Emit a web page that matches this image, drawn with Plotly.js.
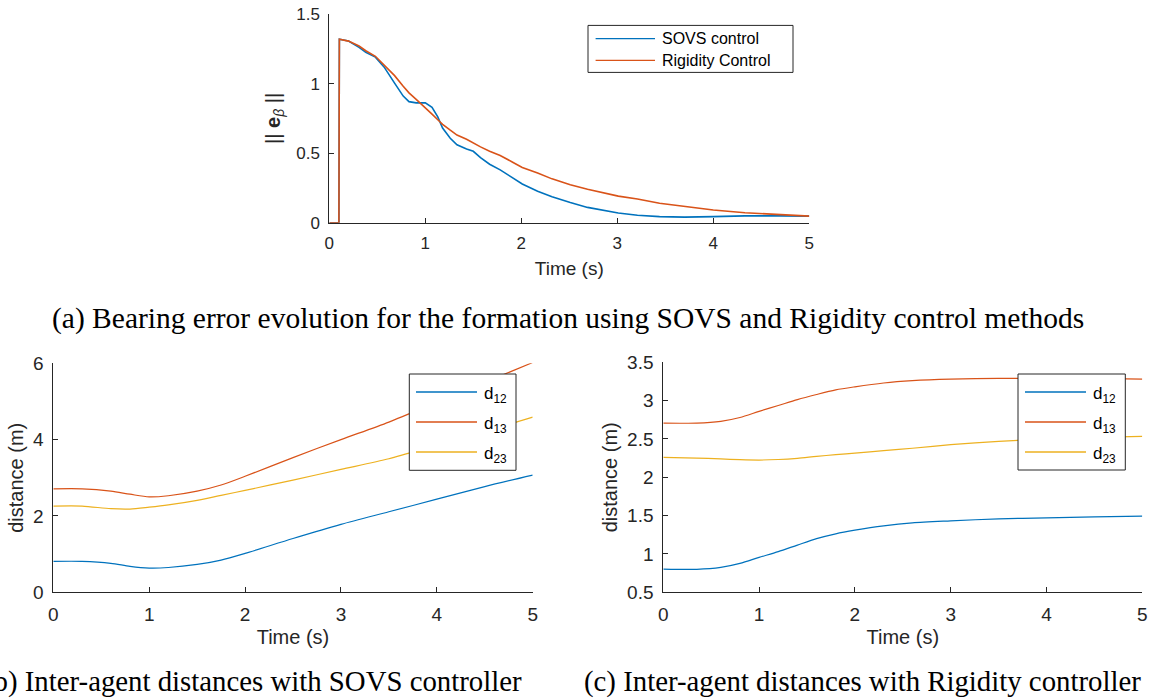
<!DOCTYPE html>
<html>
<head>
<meta charset="utf-8">
<script src="https://cdn.plot.ly/plotly-3.0.1.min.js"></script>
<style>html,body{margin:0;padding:0;background:#fff;}#chart{width:1153px;height:699px;}</style>
</head>
<body>
<div id="chart"></div>
<script>
// ---------- data: (a) bearing error ----------
const timeA = [0, 0.10, 0.105, 0.2, 0.31, 0.38, 0.48, 0.57, 0.68, 0.77, 0.83, 0.905, 1.0, 1.07, 1.13, 1.18, 1.26, 1.33, 1.43, 1.50, 1.575, 1.67, 1.78, 1.91, 2.01, 2.17, 2.32, 2.51, 2.69, 3.01, 3.21, 3.44, 3.70, 4.0, 4.33, 4.70, 5.0];
const sovsError = [0, 0, 1.318, 1.306, 1.26, 1.225, 1.19, 1.12, 1.003, 0.91, 0.87, 0.861, 0.861, 0.83, 0.76, 0.68, 0.607, 0.56, 0.53, 0.513, 0.467, 0.42, 0.38, 0.32, 0.278, 0.226, 0.187, 0.145, 0.11, 0.07, 0.054, 0.044, 0.04, 0.044, 0.049, 0.049, 0.047];
const rigidityError = [0, 0, 1.318, 1.305, 1.27, 1.236, 1.196, 1.13, 1.057, 0.98, 0.933, 0.886, 0.828, 0.78, 0.74, 0.707, 0.665, 0.63, 0.60, 0.572, 0.545, 0.513, 0.483, 0.435, 0.397, 0.357, 0.315, 0.273, 0.24, 0.191, 0.17, 0.14, 0.117, 0.091, 0.072, 0.058, 0.047];
const legendA = ["SOVS control", "Rigidity Control"];

// ---------- data: (b) SOVS distances ----------
const timeB = [0, 0.3, 0.6, 0.8, 1.0, 1.2, 1.5, 1.75, 2.0, 2.5, 3.0, 3.5, 4.0, 4.5, 5.0];
const d12SOVS = [0.81, 0.81, 0.76, 0.68, 0.636, 0.65, 0.73, 0.845, 1.02, 1.41, 1.78, 2.11, 2.44, 2.77, 3.07];
const d13SOVS = [2.71, 2.71, 2.65, 2.57, 2.50, 2.53, 2.65, 2.81, 3.04, 3.53, 4.0, 4.46, 4.98, 5.50, 6.02];
const d23SOVS = [2.26, 2.26, 2.19, 2.18, 2.23, 2.29, 2.41, 2.54, 2.67, 2.94, 3.22, 3.50, 3.86, 4.21, 4.59];

// ---------- data: (c) Rigidity distances ----------
const timeC = [0, 0.35, 0.6, 0.8, 1.0, 1.2, 1.4, 1.6, 1.8, 2.0, 2.3, 2.6, 3.0, 3.5, 4.0, 4.5, 5.0];
const d12Rig = [0.803, 0.80, 0.825, 0.877, 0.955, 1.03, 1.116, 1.20, 1.263, 1.31, 1.367, 1.406, 1.432, 1.458, 1.471, 1.484, 1.493];
const d13Rig = [2.707, 2.707, 2.73, 2.78, 2.86, 2.936, 3.014, 3.08, 3.14, 3.18, 3.23, 3.26, 3.28, 3.29, 3.29, 3.29, 3.28];
const d23Rig = [2.26, 2.25, 2.24, 2.23, 2.225, 2.232, 2.248, 2.273, 2.295, 2.316, 2.347, 2.379, 2.425, 2.468, 2.50, 2.52, 2.533];
const distNames = ["d<sub>12</sub>", "d<sub>13</sub>", "d<sub>23</sub>"];

const captions = [
  "(a) Bearing error evolution for the formation using SOVS and Rigidity control methods",
  "(b) Inter-agent distances with SOVS controller",
  "(c) Inter-agent distances with Rigidity controller"
];

// ---------- styling ----------
const W = 1153, H = 699;
const px = x => x / W;
const py = y => 1 - y / H;
const C = ["#0072BD", "#D95319", "#EDB120"];
const AX = "#262626";
const SANS = "Liberation Sans, Arial, sans-serif";
const SERIF = "Liberation Serif, Times New Roman, serif";

function line(x, y, name, color, xa, ya, width, shape) {
  return {x: x, y: y, name: name, type: "scatter", mode: "lines", xaxis: xa, yaxis: ya,
    line: {color: color, width: width, shape: shape || "linear", smoothing: 0.8}, showlegend: false, hoverinfo: "x+y+name"};
}

const traces = [
  line(timeA, sovsError, legendA[0], C[0], "x", "y", 1.6),
  line(timeA, rigidityError, legendA[1], C[1], "x", "y", 1.6),
  line(timeB, d12SOVS, distNames[0], C[0], "x2", "y2", 1.2, "spline"),
  line(timeB, d13SOVS, distNames[1], C[1], "x2", "y2", 1.2, "spline"),
  line(timeB, d23SOVS, distNames[2], C[2], "x2", "y2", 1.2, "spline"),
  line(timeC, d12Rig, distNames[0], C[0], "x3", "y3", 1.2, "spline"),
  line(timeC, d13Rig, distNames[1], C[1], "x3", "y3", 1.2, "spline"),
  line(timeC, d23Rig, distNames[2], C[2], "x3", "y3", 1.2, "spline")
];

function axis(domain, range, tick, anchor, fs, title, tfs, standoff, extra) {
  return Object.assign({
    domain: domain, range: range, anchor: anchor, showline: true, linecolor: AX, linewidth: 1,
    ticks: "inside", ticklen: 5, tickcolor: AX, tickwidth: 1, showgrid: false, zeroline: false,
    tickmode: "linear", tick0: range[0], dtick: tick, ticklabelstandoff: 5,
    tickfont: {family: SANS, size: fs, color: AX}, fixedrange: true,
    title: {text: title, font: {family: SANS, size: tfs, color: AX}, standoff: standoff}
  }, extra || {});
}

const layout = {
  width: W, height: H, margin: {l: 0, r: 0, t: 0, b: 0}, paper_bgcolor: "#fff", plot_bgcolor: "rgba(0,0,0,0)",
  showlegend: false,
  xaxis: axis([px(329.3), px(809.3)], [0, 5], 1, "y", 17, "Time (s)", 19, 9),
  yaxis: axis([py(222.7), py(14)], [0, 1.5], 0.5, "x", 17, "|| <b>e</b><sub><i>β</i></sub> ||", 20, 10),
  xaxis2: axis([px(53.3), px(532.7)], [0, 5], 1, "y2", 19, "Time (s)", 20, 5),
  yaxis2: axis([py(592.3), py(363.3)], [0, 6], 2, "x2", 19, "distance (m)", 20, 3),
  xaxis3: axis([px(663.3), px(1142.3)], [0, 5], 1, "y3", 19, "Time (s)", 20, 5),
  yaxis3: axis([py(592.3), py(362.3)], [0.5, 3.5], 0.5, "x3", 19, "distance (m)", 20, 4),
  shapes: [],
  annotations: []
};

// legends drawn as boxes with sample lines
function addLegend(box, sample, textX, rowsY, names, fs) {
  layout.shapes.push({type: "rect", xref: "paper", yref: "paper", x0: px(box[0]), x1: px(box[1]), y0: py(box[3]), y1: py(box[2]),
    line: {color: AX, width: 1}, fillcolor: "#fff", layer: "above"});
  names.forEach((n, i) => {
    layout.shapes.push({type: "line", xref: "paper", yref: "paper", x0: px(sample[0]), x1: px(sample[1]), y0: py(rowsY[i]), y1: py(rowsY[i]),
      line: {color: C[i], width: 1.3}, layer: "above"});
    layout.annotations.push({xref: "paper", yref: "paper", x: px(textX), y: py(rowsY[i] + (n.indexOf("<sub>") >= 0 ? 3 : 0)),
      xanchor: "left", yanchor: "middle", showarrow: false, text: n, font: {family: SANS, size: fs, color: "#000"}});
  });
}
addLegend([588, 793, 25.4, 72.4], [595.6, 655], 660, [38.7, 60.4], legendA, 16);
addLegend([409.3, 516, 374, 470.3], [416, 477], 482, [392, 422, 452], distNames, 17);
addLegend([1018, 1125.3, 374, 470], [1025, 1086], 1090.5, [392, 422, 452], distNames, 17);

// captions
layout.annotations.push({xref: "paper", yref: "paper", x: px(568), y: py(318), xanchor: "center", yanchor: "middle", showarrow: false, text: captions[0], font: {family: SERIF, size: 29.5, color: "#000"}});
layout.annotations.push({xref: "paper", yref: "paper", x: px(524), y: py(681), xanchor: "right", yanchor: "middle", showarrow: false, text: captions[1], font: {family: SERIF, size: 28.8, color: "#000"}});
layout.annotations.push({xref: "paper", yref: "paper", x: px(1143), y: py(681), xanchor: "right", yanchor: "middle", showarrow: false, text: captions[2], font: {family: SERIF, size: 28.8, color: "#000"}});

Plotly.newPlot("chart", traces, layout, {displayModeBar: false, staticPlot: true});
</script>
</body>
</html>
